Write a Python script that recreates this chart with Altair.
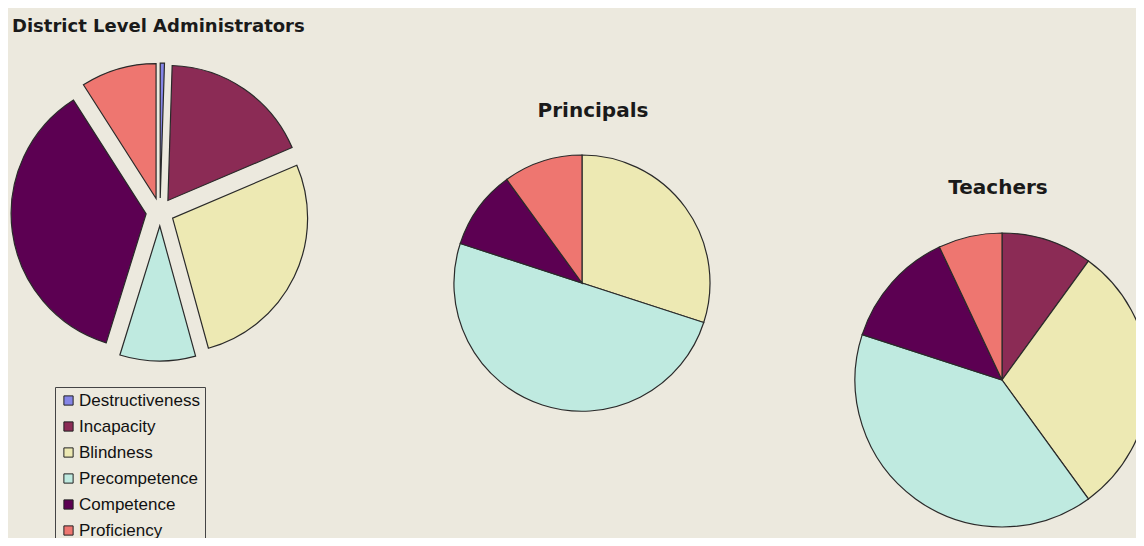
import altair as alt
import pandas as pd

# ---- data ----
categories = ["Destructiveness", "Incapacity", "Blindness", "Precompetence", "Competence", "Proficiency"]
pies = ["District Level Administrators", "Principals", "Teachers"]
district_values = [0.5, 18, 27, 9, 36, 9]
principal_values = [0, 0, 30, 50, 10, 10]
teacher_values = [0, 10, 30, 40, 13, 7]

# ---- styles / layout ----
colors = ["#8585E6", "#8B2B55", "#EDE9B3", "#BFEAE0", "#5C0052", "#EE7670"]
BG = "#ECE9DE"
layout = {
    pies[0]: dict(cx=152, cy=204, r=135, explode=14, tx=4, ty=24, align="left", fs=18),
    pies[1]: dict(cx=574, cy=275, r=128, explode=0, tx=585, ty=109, align="center", fs=20),
    pies[2]: dict(cx=994, cy=372, r=147, explode=0, tx=990, ty=186, align="center", fs=20),
}

rows = []
for pie, vals in zip(pies, [district_values, principal_values, teacher_values]):
    for i, (c, v) in enumerate(zip(categories, vals)):
        rows.append({"pie": pie, "category": c, "order": i, "value": v})
df = pd.DataFrame(rows)
titles = pd.DataFrame({"pie": pies})

color = alt.Color(
    "category:N",
    scale=alt.Scale(domain=categories, range=colors),
    legend=alt.Legend(
        title=None, orient="none", legendX=47, legendY=379,
        strokeColor="#444444", padding=5, rowPadding=8,
        symbolType="square", symbolSize=85, symbolStrokeColor="#222222",
        symbolStrokeWidth=1, symbolOpacity=1, labelFont="Liberation Sans",
        labelFontSize=17, labelColor="#111111", labelOffset=2, symbolOffset=0,
        cornerRadius=0, labelLimit=300,
    ),
    sort=categories,
)

layers = []
for name in pies:
    L = layout[name]
    arc = (
        alt.Chart(df)
        .transform_filter(alt.datum.pie == name)
        .transform_joinaggregate(total="sum(value)")
        .transform_window(cum="sum(value)", sort=[alt.SortField("order")], frame=[None, 0])
        .transform_calculate(
            t1="datum.cum / datum.total * 2 * PI",
            t0="(datum.cum - datum.value) / datum.total * 2 * PI",
        )
        .transform_calculate(mid="(datum.t0 + datum.t1) / 2")
        .transform_calculate(
            px=f"{L['cx']} + {L['explode']} * sin(datum.mid)",
            py=f"{L['cy']} - {L['explode']} * cos(datum.mid)",
        )
        .transform_filter("datum.value > 0")
        .mark_arc(radius=L["r"], stroke="#2a2a2a", strokeWidth=1.2)
        .encode(
            x=alt.X("px:Q", scale=None, axis=None),
            y=alt.Y("py:Q", scale=None, axis=None),
            theta=alt.Theta("t0:Q", scale=None),
            theta2=alt.Theta2("t1:Q"),
            color=color,
        )
    )
    title = (
        alt.Chart(titles)
        .transform_filter(alt.datum.pie == name)
        .mark_text(
            x=L["tx"], y=L["ty"], align=L["align"], baseline="alphabetic",
            font="DejaVu Sans", fontWeight="bold", fontSize=L["fs"], color="#1a1a1a",
        )
        .encode(text="pie:N")
    )
    layers += [arc, title]

chart = (
    alt.layer(*layers)
    .properties(width=1128, height=530, background=BG, padding=0, autosize="none")
    .configure_view(stroke=None)
)

chart.save("out.html", embed_options={"renderer": "svg", "actions": False})
